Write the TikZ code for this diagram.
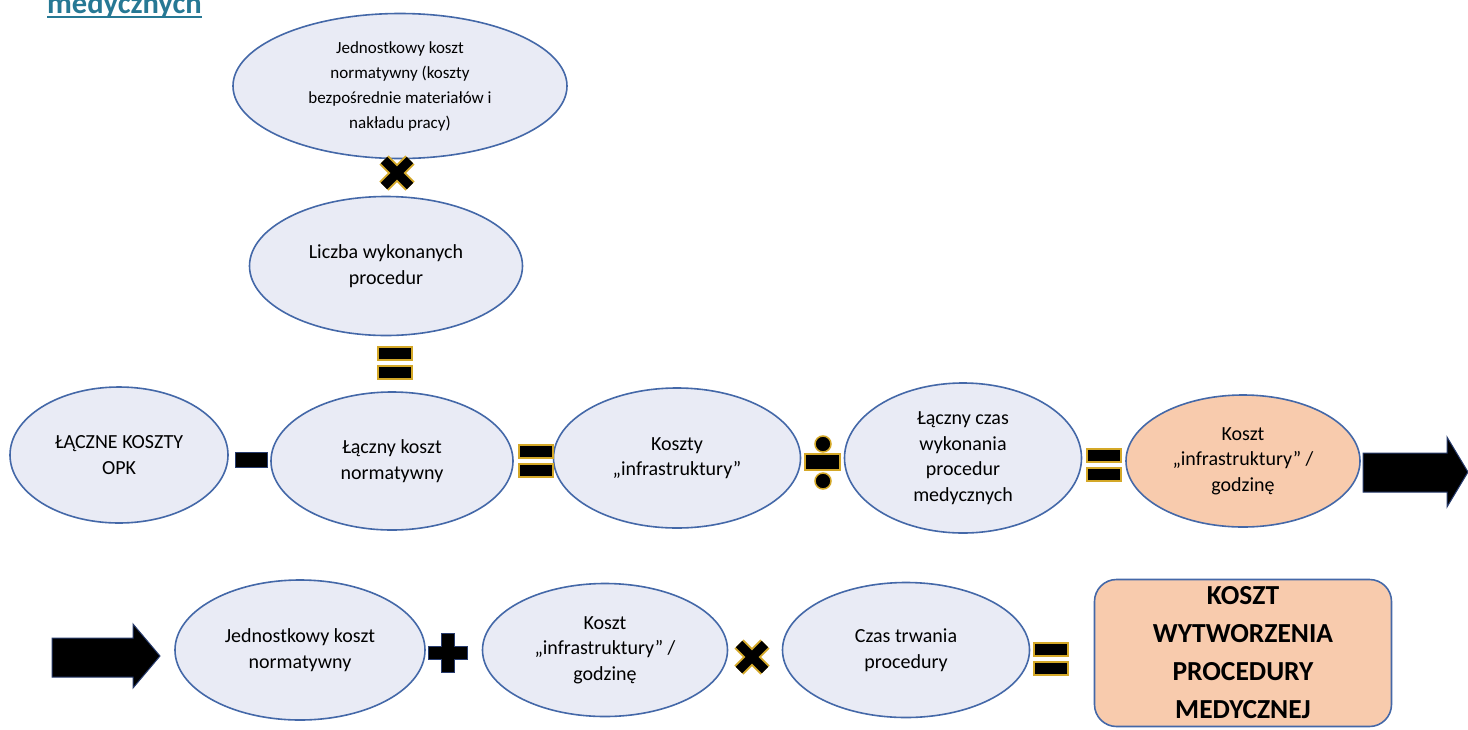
\documentclass[tikz,border=0pt]{standalone}
\usepackage{fontspec}
\setmainfont{Carlito}
\usetikzlibrary{shapes.geometric}
\definecolor{elfill}{RGB}{233,235,245}
\definecolor{elline}{RGB}{68,104,168}
\definecolor{peach}{RGB}{248,203,173}
\definecolor{glow}{RGB}{212,168,40}
\definecolor{titleteal}{RGB}{38,120,148}
\definecolor{arrline}{RGB}{40,60,110}

\begin{document}
\begin{tikzpicture}[x=1pt,y=-1pt,
    ell/.style={ellipse,draw=elline,fill=elfill,line width=1.6pt,inner sep=0pt,align=center,font=\fontsize{20}{25.5}\selectfont},
    opbar/.style={fill=black,draw=glow,line width=1.5pt},
    blockarrow/.style={fill=black,draw=arrline,line width=1pt}]
    \useasboundingbox[fill=white](0,0)rectangle(1468,729);
    \node[anchor=base west,inner sep=0pt,text=titleteal,font=\fontsize{30.5}{31}\selectfont\bfseries](title)at(47,13){medycznych};
    \draw[titleteal,line width=2pt]([yshift=-4pt]title.base west)--([yshift=-4pt]title.base east);

    \node[ell,minimum width=334,minimum height=145,font=\fontsize{17}{25}\selectfont](jkn)at(400,86){Jednostkowy koszt\\normatywny (koszty\\bezpośrednie materiałów i\\nakładu pracy)};
    \node[ell,minimum width=273,minimum height=139](liczba)at(386,266){Liczba wykonanych\\procedur};
    \node[ell,minimum width=218,minimum height=136](opk)at(119,455){ŁĄCZNE KOSZTY\\OPK};
    \node[ell,minimum width=242,minimum height=138](lkn)at(392,461){Łączny koszt\\normatywny};
    \node[ell,minimum width=247,minimum height=140](infra)at(677,458){Koszty\\„infrastruktury”};
    \node[ell,minimum width=237,minimum height=150](czas)at(963,458){Łączny czas\\wykonania\\procedur\\medycznych};
    \node[ell,fill=peach,minimum width=234,minimum height=132](infrah)at(1243,461){Koszt\\„infrastruktury” /\\godzinę};
    \node[ell,minimum width=250,minimum height=140](jkn2)at(300,650){Jednostkowy koszt\\normatywny};
    \node[ell,minimum width=245,minimum height=133](infrah2)at(605,650){Koszt\\„infrastruktury” /\\godzinę};
    \node[ell,minimum width=247,minimum height=135](trwanie)at(906,650){Czas trwania\\procedury};
    \node[draw=elline,fill=peach,line width=1.6pt,rounded corners=22pt,minimum width=297,minimum height=147,align=center,font=\fontsize{27.5}{38}\selectfont\bfseries](wynik)at(1243,653){KOSZT\\WYTWORZENIA\\PROCEDURY\\MEDYCZNEJ};

    \foreach \x/\y in {397/173,752/657}{
        \draw[glow,line width=13pt](\x-13,\y-13)--(\x+13,\y+13)(\x-13,\y+13)--(\x+13,\y-13);
        \draw[line width=9pt](\x-13,\y-13)--(\x+13,\y+13)(\x-13,\y+13)--(\x+13,\y-13);
    }
    \foreach \x/\y in {395/363,536/461,1104/465,1051/659}{
        \draw[opbar](\x-17,\y-16)rectangle(\x+17,\y-3);
        \draw[opbar](\x-17,\y+3)rectangle(\x+17,\y+16);
    }
    \draw[blockarrow](235,452)rectangle(267,467);
    \draw[opbar](805,454)rectangle(840,470);
    \draw[opbar](823,444)circle(8pt)(823,481)circle(8pt);
    \draw[blockarrow](441.5,633.5)--++(13,0)--++(0,13)--++(13,0)--++(0,13)--++(-13,0)--++(0,13)--++(-13,0)--++(0,-13)--++(-13,0)--++(0,-13)--++(13,0)--cycle;
    \draw[blockarrow](1363,453)--(1447,453)--(1447,437)--(1468,472)--(1447,507)--(1447,492)--(1363,492)--cycle;
    \draw[blockarrow](52,638)--(133,638)--(133,624)--(160,656)--(133,688)--(133,677)--(52,677)--cycle;
\end{tikzpicture}
\end{document}
